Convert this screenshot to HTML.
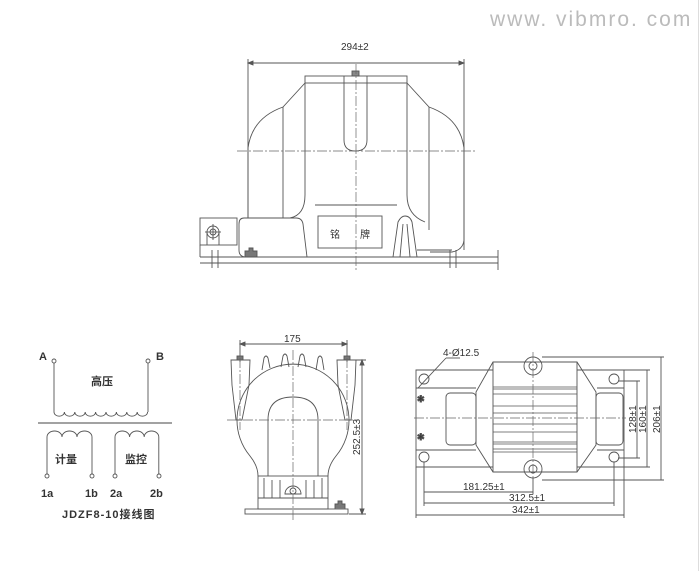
<!DOCTYPE html>
<html><head><meta charset="utf-8"><style>
html,body{margin:0;padding:0;background:#fff;}
svg{display:block;}
text{font-family:"Liberation Sans","Noto Sans CJK SC",sans-serif;fill:#333;}
</style></head><body>
<svg width="700" height="571" viewBox="0 0 700 571" xmlns="http://www.w3.org/2000/svg">
<rect x="0" y="0" width="700" height="571" fill="#fff"/>
<line x1="698.5" y1="0" x2="698.5" y2="571" stroke="#ddd"/>
<text x="490" y="26" font-size="21" fill="#bbb" style="fill:#bbb;letter-spacing:2px">www. vibmro. com</text>

<g fill="none" stroke="#555" stroke-width="0.9">
<!-- ===== FRONT VIEW ===== -->
<line x1="248" y1="63" x2="464" y2="63"/>
<path d="M248 63 l5 -2 v4z M464 63 l-5 -2 v4z" fill="#555"/>
<line x1="248" y1="59" x2="248" y2="218"/>
<line x1="464" y1="59" x2="464" y2="250"/>
<rect x="305" y="76" width="102" height="7"/>
<path d="M305 83 L283 107 Q252 118 248 148 L248 218"/>
<path d="M407 83 L429 107 Q460 118 464 148 L464 240 Q463 250 452 252 L430 252"/>
<line x1="283" y1="107" x2="283" y2="218"/>
<line x1="429" y1="107" x2="429" y2="230"/>
<path d="M305 83 L305 195 Q305 215 290 218"/>
<path d="M407 83 L407 195 Q407 215 425 222"/>
<path d="M344 76 L344 140 Q344 151 355.5 151 Q367 151 367 140 L367 76"/>
<rect x="352" y="71" width="7" height="5" fill="#888"/>
<line x1="315" y1="205" x2="397" y2="205"/>
<rect x="318" y="216" width="64" height="32"/>
<rect x="200" y="218" width="37" height="27"/>
<line x1="200" y1="245" x2="200" y2="257"/>
<circle cx="213" cy="232" r="6"/><circle cx="213" cy="232" r="3"/>
<line x1="205" y1="232" x2="221" y2="232"/><line x1="213" y1="224" x2="213" y2="240"/>
<line x1="207" y1="232" x2="207" y2="245"/><line x1="219" y1="232" x2="219" y2="245"/>
<path d="M244 218 L296 218 Q302 218 303 224 L307 257 M244 218 Q239 218 239 224 L239 250 Q239 257 246 257"/>
<path d="M245 257 v-6 h4 v-3 h4 v3 h4 v6" fill="#777"/>
<path d="M393 257 L398 222 Q401 216 405 216 Q410 216 412 222 L417 257"/>
<line x1="400" y1="257" x2="403" y2="224"/><line x1="410" y1="257" x2="407" y2="224"/>
<line x1="417" y1="250" x2="452" y2="250"/>
<line x1="200" y1="257" x2="498" y2="257"/>
<line x1="200" y1="263" x2="498" y2="263"/>
<line x1="212" y1="250" x2="212" y2="268"/><line x1="218" y1="250" x2="218" y2="268"/>
<line x1="450" y1="250" x2="450" y2="268"/><line x1="456" y1="250" x2="456" y2="268"/>
<line x1="498" y1="250" x2="498" y2="270"/>
<!-- ===== SIDE VIEW ===== -->
<line x1="240" y1="344" x2="347" y2="344"/>
<path d="M240 344 l5 -2 v4z M347 344 l-5 -2 v4z" fill="#555"/>
<line x1="240" y1="340" x2="240" y2="362"/><line x1="347" y1="340" x2="347" y2="362"/>
<path d="M231 360 L250 360 L249 385 L242 420 L236 420 L232 385Z"/>
<path d="M337 360 L356 360 L355 385 L351 420 L345 420 L338 385Z"/>
<rect x="237" y="356" width="6" height="4" fill="#777"/><rect x="344" y="356" width="6" height="4" fill="#777"/>
<path d="M262 370 l2 -12 q2 -4 4 0 l2 10 M281 367 l2 -11 q2 -4 4 0 l2 11 M298 367 l2 -11 q2 -4 4 0 l2 11 M316 370 l2 -12 q2 -4 4 0 l2 12"/>
<path d="M258 476 Q258 466 250 456 A56 56 0 1 1 336 456 Q328 466 328 476"/>
<path d="M268 476 L268 420 Q268 397 293 397 Q318 397 318 420 L318 476"/>
<rect x="258" y="476" width="70" height="33"/>
<line x1="258" y1="498" x2="328" y2="498"/>
<line x1="264" y1="478" x2="264" y2="498"/><line x1="322" y1="478" x2="322" y2="498"/>
<line x1="272" y1="480" x2="272" y2="498"/><line x1="280" y1="480" x2="280" y2="498"/>
<line x1="306" y1="480" x2="306" y2="498"/><line x1="314" y1="480" x2="314" y2="498"/>
<path d="M285 494 a8 8 0 0 1 16 0 z"/><circle cx="293" cy="491" r="3"/>
<rect x="245" y="509" width="103" height="5"/>
<path d="M335 509 v-5 h3 v-3 h4 v3 h3 v5" fill="#777"/>
<line x1="345" y1="360" x2="366" y2="360"/><line x1="349" y1="514" x2="366" y2="514"/>
<line x1="362" y1="360" x2="362" y2="514"/>
<path d="M362 360 l-2 5 h4z M362 514 l-2 -5 h4z" fill="#555"/>
<!-- ===== PLAN VIEW ===== -->
<path d="M493 370 L416 370 L416 467 L493 467"/>
<path d="M577 370 L624 370 L624 467 L577 467"/>
<line x1="416" y1="388" x2="476" y2="388"/><line x1="416" y1="450" x2="476" y2="450"/>
<line x1="597" y1="388" x2="624" y2="388"/><line x1="597" y1="450" x2="624" y2="450"/>
<path d="M493 362 L577 362 L596 392 L596 445 L577 472 L493 472 L476 445 L476 392 Z"/>
<line x1="493" y1="362" x2="493" y2="472"/><line x1="577" y1="362" x2="577" y2="472"/>
<rect x="446" y="393" width="30" height="52" rx="4"/>
<rect x="596" y="393" width="27" height="52" rx="4"/>
<g stroke-width="0.7">
<line x1="493" y1="387" x2="577" y2="387"/><line x1="493" y1="389" x2="577" y2="389"/>
<line x1="493" y1="394" x2="577" y2="394"/><line x1="493" y1="406" x2="577" y2="406"/>
<line x1="493" y1="413" x2="577" y2="413"/><line x1="493" y1="424" x2="577" y2="424"/>
<line x1="493" y1="432" x2="577" y2="432"/><line x1="493" y1="442" x2="577" y2="442"/>
<line x1="493" y1="444" x2="577" y2="444"/><line x1="493" y1="449" x2="577" y2="449"/>
<line x1="493" y1="452" x2="577" y2="452"/>
</g>
<circle cx="533" cy="366" r="9"/><circle cx="533" cy="366" r="4"/>
<circle cx="533" cy="469" r="9"/><circle cx="533" cy="469" r="4"/>
<circle cx="424" cy="379" r="5"/><circle cx="424" cy="457" r="5"/>
<circle cx="614" cy="379" r="5"/><circle cx="614" cy="457" r="5"/>
<text x="417" y="402" font-size="9" style="fill:#333">✱</text>
<text x="417" y="440" font-size="9" style="fill:#333">✱</text>
<line x1="418" y1="388" x2="446" y2="358"/><line x1="446" y1="358" x2="460" y2="358"/>
<line x1="424" y1="462" x2="424" y2="506"/><line x1="614" y1="462" x2="614" y2="506"/>
<line x1="416" y1="467" x2="416" y2="518"/><line x1="624" y1="467" x2="624" y2="518"/>
<line x1="533" y1="478" x2="533" y2="494"/>
<line x1="424" y1="492" x2="533" y2="492"/>
<line x1="424" y1="503" x2="614" y2="503"/>
<line x1="416" y1="515" x2="624" y2="515"/>
<line x1="618" y1="381" x2="640" y2="381"/><line x1="618" y1="458" x2="640" y2="458"/>
<line x1="624" y1="370" x2="650" y2="370"/><line x1="624" y1="467" x2="650" y2="467"/>
<line x1="542" y1="357" x2="664" y2="357"/><line x1="542" y1="480" x2="664" y2="480"/>
<line x1="637" y1="381" x2="637" y2="458"/>
<line x1="647" y1="370" x2="647" y2="467"/>
<line x1="661" y1="357" x2="661" y2="480"/>
<!-- ===== SCHEMATIC ===== -->
<circle cx="54" cy="361" r="2"/><circle cx="148" cy="361" r="2"/>
<path d="M54 363 V412 M148 363 V412"/>
<path d="M54 412 a5 4 0 0 0 10.4 0 a5 4 0 0 0 10.4 0 a5 4 0 0 0 10.4 0 a5 4 0 0 0 10.4 0 a5 4 0 0 0 10.4 0 a5 4 0 0 0 10.4 0 a5 4 0 0 0 10.4 0 a5 4 0 0 0 10.4 0 a5 4 0 0 0 10.4 0"/>
<line x1="38" y1="423" x2="172" y2="423" stroke="#444"/>
<path d="M47 474 V437 a7.5 6 0 0 1 15 0 a7.5 6 0 0 1 15 0 a7.5 6 0 0 1 15 0 V474"/>
<path d="M115 474 V437 a7.3 6 0 0 1 14.6 0 a7.3 6 0 0 1 14.6 0 a7.3 6 0 0 1 14.6 0 V474"/>
<circle cx="47" cy="476" r="2"/><circle cx="92" cy="476" r="2"/>
<circle cx="115" cy="476" r="2"/><circle cx="159" cy="476" r="2"/>
</g>
<g fill="none" stroke="#666" stroke-width="0.7" stroke-dasharray="10 2 2 2">
<line x1="237" y1="151" x2="477" y2="151"/>
<line x1="356" y1="64" x2="356" y2="272"/>
<line x1="227" y1="420" x2="358" y2="420"/>
<line x1="293" y1="350" x2="293" y2="520"/>
<line x1="240" y1="358" x2="240" y2="430"/><line x1="347" y1="358" x2="347" y2="430"/>
<line x1="414" y1="418" x2="626" y2="418"/>
<line x1="533" y1="352" x2="533" y2="482"/>
</g>
<g font-size="10">
<text x="341" y="50">294±2</text>
<text x="284" y="342">175</text>
<text x="443" y="356">4-Ø12.5</text>
<text x="463" y="490">181.25±1</text>
<text x="509" y="501">312.5±1</text>
<text x="512" y="513">342±1</text>
<text transform="translate(636,433) rotate(-90)">128±1</text>
<text transform="translate(646,433) rotate(-90)">160±1</text>
<text transform="translate(660,433) rotate(-90)">206±1</text>
<text transform="translate(360,455) rotate(-90)">252.5±3</text>
</g>
<text x="330" y="238" font-size="10">铭</text>
<text x="360" y="238" font-size="10">牌</text>
<g font-size="11" font-weight="bold" style="fill:#222">
<text x="39" y="360">A</text><text x="156" y="360">B</text>
<text x="91" y="385">高压</text>
<text x="55" y="463">计量</text>
<text x="125" y="463">监控</text>
<text x="41" y="497">1a</text><text x="85" y="497">1b</text>
<text x="110" y="497">2a</text><text x="150" y="497">2b</text>
<text x="62" y="518" style="letter-spacing:1px">JDZF8-10接线图</text>
</g>
</svg>
</body></html>
